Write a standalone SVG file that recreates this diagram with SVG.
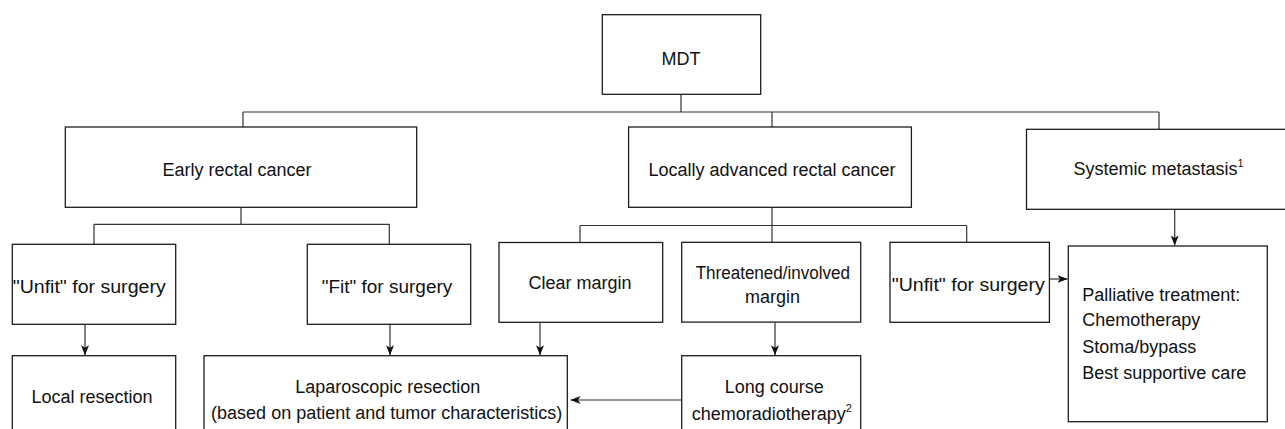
<svg xmlns="http://www.w3.org/2000/svg" width="1285" height="429" viewBox="0 0 1285 429">
  <style>
    .box { fill: #ffffff; stroke: #1e1e1e; stroke-width: 1.3; }
    .link { fill: none; stroke: #333333; stroke-width: 1.2; }
    .arrow { fill: none; stroke: #333333; stroke-width: 1.2; marker-end: url(#head); }
    text { font-family: "Liberation Sans", Arial, sans-serif; font-size: 18px; fill: #111111; }
    .c { text-anchor: middle; }
    .sup { font-size: 11px; }
  </style>
  <defs>
    <marker id="head" markerUnits="userSpaceOnUse" markerWidth="11" markerHeight="9" refX="10" refY="4" orient="auto">
      <path d="M0,0 L10,4 L0,8 L2.5,4 z" fill="#111111"/>
    </marker>
  </defs>

  <!-- connectors -->
  <g id="connectors">
    <!-- MDT to the three categories -->
    <path class="link" d="M681,94.5 V112 M243,112 H1159 M243,112 V127 M772,112 V127 M1159,112 V129.3"/>
    <!-- early rectal cancer split -->
    <path class="link" d="M241,207.3 V224.3 M94,224.3 H389.3 M94,224.3 V244.3 M389.3,224.3 V244.3"/>
    <!-- locally advanced split -->
    <path class="link" d="M772,207.3 V242.3 M580,225.5 H966.7 M580,225.5 V242.3 M966.7,225.5 V242.3"/>
    <!-- arrows -->
    <path class="arrow" d="M85,324.3 V355.2"/>
    <path class="arrow" d="M390,324.3 V355.2"/>
    <path class="arrow" d="M540,322.3 V355.2"/>
    <path class="arrow" d="M775,322.3 V355.2"/>
    <path class="arrow" d="M1174.7,209.3 V245.5"/>
    <path class="arrow" d="M1049.4,279 H1067.5"/>
    <path class="arrow" d="M681.7,400 H570.5"/>
  </g>

  <g id="mdt">
    <rect class="box" x="602.3" y="14.7" width="158.4" height="79.6"/>
    <text class="c" x="681" y="65">MDT</text>
  </g>

  <g id="early">
    <rect class="box" x="65.3" y="127" width="351.4" height="80.3"/>
    <text class="c" x="237" y="176">Early rectal cancer</text>
  </g>

  <g id="locally-advanced">
    <rect class="box" x="628.6" y="127" width="282.8" height="80.3"/>
    <text class="c" x="772" y="176">Locally advanced rectal cancer</text>
  </g>

  <g id="systemic">
    <rect class="box" x="1026.5" y="129.3" width="270" height="80"/>
    <text x="1073.5" y="175">Systemic metastasis<tspan class="sup" dy="-8">1</tspan></text>
  </g>

  <g id="unfit-early">
    <rect class="box" x="12.3" y="244.3" width="163.4" height="80"/>
    <text x="12.7" y="293" textLength="153" lengthAdjust="spacingAndGlyphs">"Unfit" for surgery</text>
  </g>

  <g id="fit-early">
    <rect class="box" x="307.3" y="244.3" width="163.4" height="80"/>
    <text x="321.7" y="293" textLength="130.6" lengthAdjust="spacingAndGlyphs">"Fit" for surgery</text>
  </g>

  <g id="clear-margin">
    <rect class="box" x="499" y="242.5" width="163.7" height="79.8"/>
    <text class="c" x="580" y="289.3">Clear margin</text>
  </g>

  <g id="threatened-margin">
    <rect class="box" x="681.7" y="242.3" width="179" height="79.8"/>
    <text x="695.7" y="279.3" textLength="154.3" lengthAdjust="spacingAndGlyphs">Threatened/involved</text>
    <text class="c" x="772.5" y="302.7">margin</text>
  </g>

  <g id="unfit-advanced">
    <rect class="box" x="890" y="242.3" width="159.4" height="80"/>
    <text x="891.7" y="291" textLength="153" lengthAdjust="spacingAndGlyphs">"Unfit" for surgery</text>
  </g>

  <g id="palliative">
    <rect class="box" x="1068.3" y="246" width="199" height="175.7"/>
    <text x="1082.3" y="300.7">Palliative treatment:</text>
    <text x="1082.3" y="326">Chemotherapy</text>
    <text x="1082.3" y="352.7">Stoma/bypass</text>
    <text x="1082.3" y="379.3">Best supportive care</text>
  </g>

  <g id="local-resection">
    <rect class="box" x="12.3" y="355.7" width="163.4" height="90"/>
    <text class="c" x="92" y="403">Local resection</text>
  </g>

  <g id="laparoscopic">
    <rect class="box" x="204" y="355.7" width="363.3" height="90"/>
    <text class="c" x="387.8" y="393">Laparoscopic resection</text>
    <text class="c" x="386.7" y="419">(based on patient and tumor characteristics)</text>
  </g>

  <g id="long-course">
    <rect class="box" x="681.7" y="355.7" width="179" height="90"/>
    <text class="c" x="774.2" y="393.3">Long course</text>
    <text x="691.7" y="420">chemoradiotherapy<tspan class="sup" dy="-8">2</tspan></text>
  </g>
</svg>
